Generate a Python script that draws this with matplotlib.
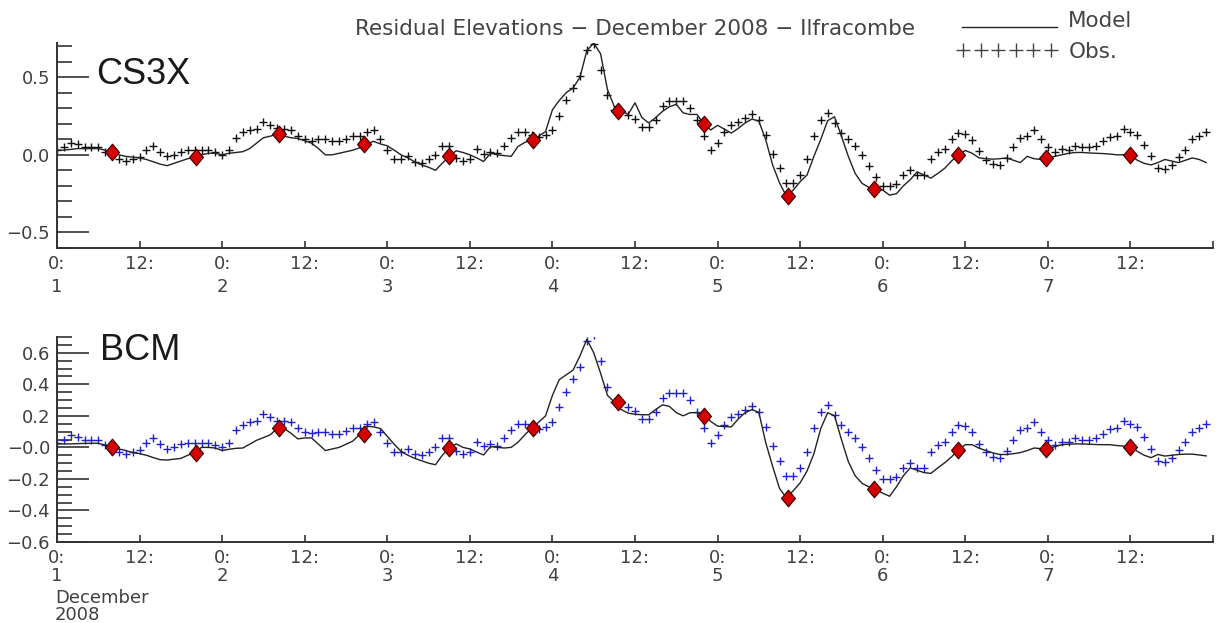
import numpy as np
import matplotlib.pyplot as plt
from matplotlib.lines import Line2D

# hourly values, 1 Dec 2008 00:00 onwards
hours = np.arange(168)

obs = [0.03, 0.05, 0.076, 0.067, 0.05, 0.05, 0.05, 0.015, 0.0, -0.03, -0.043, -0.03,
       -0.017, 0.028, 0.058, 0.02, -0.01, 0.0, 0.02, 0.03, 0.03, 0.03, 0.03, 0.015,
       0.0, 0.028, 0.108, 0.145, 0.16, 0.167, 0.21, 0.19, 0.17, 0.167, 0.16, 0.12,
       0.10, 0.09, 0.10, 0.10, 0.087, 0.087, 0.105, 0.12, 0.12, 0.15, 0.16, 0.10,
       0.028, -0.03, -0.03, -0.01, -0.045, -0.05, -0.03, 0.0, 0.058, 0.058, -0.02, -0.043,
       -0.03, 0.037, 0.006, 0.02, 0.01, 0.058, 0.108, 0.15, 0.15, 0.13, 0.115, 0.13,
       0.158, 0.253, 0.353, 0.433, 0.51, 0.677, 0.714, 0.548, 0.383, 0.29, 0.28, 0.255,
       0.23, 0.18, 0.18, 0.227, 0.314, 0.346, 0.346, 0.346, 0.30, 0.227, 0.123, 0.028,
       0.076, 0.145, 0.195, 0.21, 0.24, 0.26, 0.223, 0.13, 0.006, -0.087, -0.18, -0.18,
       -0.13, -0.028, 0.12, 0.227, 0.27, 0.206, 0.14, 0.10, 0.058, 0.0, -0.07, -0.145,
       -0.2, -0.2, -0.19, -0.13, -0.10, -0.13, -0.13, -0.028, 0.015, 0.037, 0.10, 0.14,
       0.134, 0.097, 0.022, -0.032, -0.058, -0.065, -0.02, 0.05, 0.108, 0.12, 0.158, 0.10,
       0.05, 0.015, 0.037, 0.032, 0.058, 0.05, 0.05, 0.058, 0.087, 0.115, 0.123, 0.167,
       0.15, 0.13, 0.065, -0.01, -0.087, -0.093, -0.065, -0.015, 0.032, 0.10, 0.12, 0.15]

cs3x_model = [0.03, 0.03, 0.035, 0.04, 0.04, 0.04, 0.04, 0.03, 0.015, 0.0, -0.01, -0.015,
              -0.02, -0.03, -0.045, -0.06, -0.07, -0.055, -0.04, -0.025, -0.015, 0.0, 0.01, 0.01,
              0.0, 0.01, 0.015, 0.02, 0.04, 0.075, 0.11, 0.12, 0.134, 0.12, 0.11, 0.105,
              0.09, 0.075, 0.04, 0.0, 0.0, 0.01, 0.02, 0.03, 0.045, 0.07, 0.087, 0.07,
              0.058, 0.03, 0.0, -0.02, -0.045, -0.065, -0.08, -0.1, -0.054, -0.01, 0.026, 0.015,
              0.0, -0.02, -0.043, 0.01, 0.0, -0.005, -0.01, 0.054, 0.08, 0.097, 0.12, 0.15,
              0.29, 0.35, 0.4, 0.43, 0.5, 0.67, 0.72, 0.65, 0.42, 0.31, 0.285, 0.26,
              0.335, 0.24, 0.205, 0.24, 0.28, 0.31, 0.325, 0.27, 0.26, 0.26, 0.20, 0.16,
              0.19, 0.165, 0.14, 0.17, 0.205, 0.23, 0.217, 0.097, -0.065, -0.18, -0.266, -0.227,
              -0.173, -0.13, -0.01, 0.1, 0.22, 0.245, 0.12, -0.01, -0.12, -0.184, -0.21, -0.223,
              -0.227, -0.26, -0.25, -0.2, -0.16, -0.11, -0.13, -0.15, -0.12, -0.087, -0.04, 0.0,
              0.028, 0.01, -0.02, -0.025, -0.028, -0.025, -0.02, -0.035, -0.05, -0.01, -0.025, -0.03,
              -0.02, -0.01, 0.0, 0.01, 0.015, 0.015, 0.012, 0.01, 0.008, 0.005, 0.0, 0.0,
              0.0, -0.035, -0.055, -0.065, -0.05, -0.03, -0.04, -0.05, -0.035, -0.02, -0.03, -0.05]

bcm_model = [0.022, 0.022, 0.022, 0.024, 0.025, 0.026, 0.026, 0.015, 0.004, -0.01, -0.02, -0.033,
             -0.04, -0.05, -0.065, -0.078, -0.08, -0.075, -0.07, -0.05, -0.033, 0.0, 0.0, -0.004,
             -0.02, -0.012, -0.006, -0.004, 0.02, 0.045, 0.062, 0.08, 0.12, 0.12, 0.09, 0.054,
             0.06, 0.06, 0.02, -0.02, -0.01, 0.0, 0.02, 0.04, 0.083, 0.135, 0.13, 0.12,
             0.07, 0.02, -0.025, -0.05, -0.07, -0.085, -0.1, -0.11, -0.05, -0.004, 0.022, 0.0,
             -0.01, -0.03, -0.048, 0.005, 0.0, -0.004, 0.0, 0.033, 0.08, 0.124, 0.16, 0.2,
             0.33, 0.43, 0.46, 0.49, 0.58, 0.685, 0.6, 0.47, 0.33, 0.287, 0.24, 0.217,
             0.21, 0.207, 0.207, 0.24, 0.27, 0.26, 0.22, 0.2, 0.22, 0.22, 0.2, 0.165,
             0.135, 0.132, 0.13, 0.18, 0.22, 0.24, 0.222, 0.03, -0.12, -0.26, -0.32, -0.275,
             -0.225, -0.15, -0.04, 0.12, 0.22, 0.2, 0.05, -0.09, -0.18, -0.228, -0.25, -0.27,
             -0.29, -0.31, -0.25, -0.18, -0.13, -0.145, -0.16, -0.165, -0.13, -0.098, -0.06, -0.017,
             0.017, 0.017, -0.005, -0.02, -0.035, -0.045, -0.045, -0.04, -0.033, -0.02, -0.004, -0.008,
             -0.01, 0.005, 0.017, 0.02, 0.022, 0.022, 0.02, 0.018, 0.017, 0.017, 0.012, 0.008,
             0.004, -0.025, -0.05, -0.065, -0.045, -0.055, -0.05, -0.045, -0.043, -0.043, -0.048, -0.054]

# high water times (hours) and model residual there
hw_hours = [8, 20.2, 32.2, 44.6, 57, 69.2, 81.6, 94, 106.2, 118.8, 131, 143.7, 156]
cs3x_hw = [0.015, -0.015, 0.134, 0.07, -0.01, 0.097, 0.285, 0.2, -0.266, -0.223, 0.0, -0.02, 0.0]
bcm_hw = [0.004, -0.033, 0.12, 0.083, -0.004, 0.124, 0.287, 0.2, -0.32, -0.265, -0.017, -0.01, 0.004]

xtick_hours = list(range(0, 169, 12))
xtick_labels = []
for h in xtick_hours:
    if h == 168:
        xtick_labels.append("")
    elif h % 24 == 0:
        xtick_labels.append("0:\n%d" % (h // 24 + 1))
    else:
        xtick_labels.append("12:")

W, H = 1219, 623
fig = plt.figure(figsize=(W / 100, H / 100), dpi=100)
ax1 = fig.add_axes([57 / W, 1 - 248 / H, 1156 / W, 205 / H])
ax2 = fig.add_axes([57 / W, 1 - 542 / H, 1156 / W, 205 / H])

diamond = [(-0.42, 0), (0, 0.5), (0.42, 0), (0, -0.5), (-0.42, 0)]
axis_col = '#333333'
label_col = '#404040'


def setup(ax, ylim, majors, maj_labels, minor_step, linesp):
    ax.set_xlim(0, 168)
    ax.set_ylim(*ylim)
    for s in ['top', 'right']:
        ax.spines[s].set_visible(False)
    for s in ['left', 'bottom']:
        ax.spines[s].set_color(axis_col)
        ax.spines[s].set_linewidth(1.4)
    ax.set_xticks(xtick_hours)
    ax.set_xticklabels(xtick_labels)
    ax.set_yticks(majors)
    ax.set_yticklabels(maj_labels)
    ax.set_yticks(np.arange(-0.6, ylim[1] + 1e-6, minor_step), minor=True)
    ax.tick_params(axis='x', direction='in', length=5, width=1.2, colors=axis_col,
                   labelcolor=label_col, labelsize=13, pad=5)
    ax.tick_params(axis='y', which='major', direction='in', length=23, width=1.2,
                   colors=axis_col, labelcolor=label_col, labelsize=13, pad=5)
    ax.tick_params(axis='y', which='minor', direction='in', length=11, width=1.2,
                   colors=axis_col)
    for lab in ax.get_xticklabels():
        lab.set_linespacing(linesp)
        lab.set_verticalalignment('top')


setup(ax1, (-0.6, 0.72), [-0.5, 0.0, 0.5], ['\u22120.5', '0.0', '0.5'], 0.1, 1.35)
setup(ax2, (-0.6, 0.7), [-0.6, -0.4, -0.2, 0.0, 0.2, 0.4, 0.6],
      ['\u22120.6', '\u22120.4', '\u22120.2', '\u22120.0', '0.2', '0.4', '0.6'], 0.05, 1.0)

# top panel: CS3X
ax1.plot(hours, obs, linestyle='none', marker='+', ms=6, mew=1.0, color='#111111')
ax1.plot(hours, cs3x_model, color='#222222', lw=1.0)
ax1.plot(hw_hours, cs3x_hw, linestyle='none', marker=diamond, ms=12,
         mfc='#d40000', mec='#3a0000', mew=0.8)

# bottom panel: BCM
ax2.plot(hours, obs, linestyle='none', marker='+', ms=6, mew=1.0, color='#2020d0')
ax2.plot(hours, bcm_model, color='#222222', lw=1.0)
ax2.plot(hw_hours, bcm_hw, linestyle='none', marker=diamond, ms=12,
         mfc='#d40000', mec='#3a0000', mew=0.8)

fig.text(96 / W, 1 - 75 / H, 'CS3X', family='Liberation Sans', fontsize=26,
         color='#1a1a1a', va='center', ha='left')
fig.text(100 / W, 1 - 350 / H, 'BCM', family='Liberation Sans', fontsize=26,
         color='#1a1a1a', va='center', ha='left')
fig.text(55 / W, 1 - 589 / H, 'December\n2008', fontsize=13, color=label_col,
         ha='left', va='top', linespacing=0.95)

# title and legend
fig.text(635 / W, 1 - 29 / H, 'Residual Elevations \u2212 December 2008 \u2212 Ilfracombe',
         fontsize=15.5, color='#444444', ha='center', va='center')
fig.add_artist(Line2D([962 / W, 1057 / W], [1 - 27 / H, 1 - 27 / H],
                      transform=fig.transFigure, color='#222222', lw=1.0))
fig.text(1068 / W, 1 - 27 / H, 'Model', fontsize=15.5, color='#444444',
         ha='left', va='baseline')
plus_x = [963, 980.5, 998, 1015.5, 1033, 1050.5]
fig.add_artist(Line2D([x / W for x in plus_x], [1 - 50 / H] * len(plus_x),
                      transform=fig.transFigure, linestyle='none', marker='+',
                      ms=10, mew=1.0, color='#444444'))
fig.text(1069 / W, 1 - 58 / H, 'Obs.', fontsize=15.5, color='#444444',
         ha='left', va='baseline')

fig.savefig('out.png', dpi=100)
